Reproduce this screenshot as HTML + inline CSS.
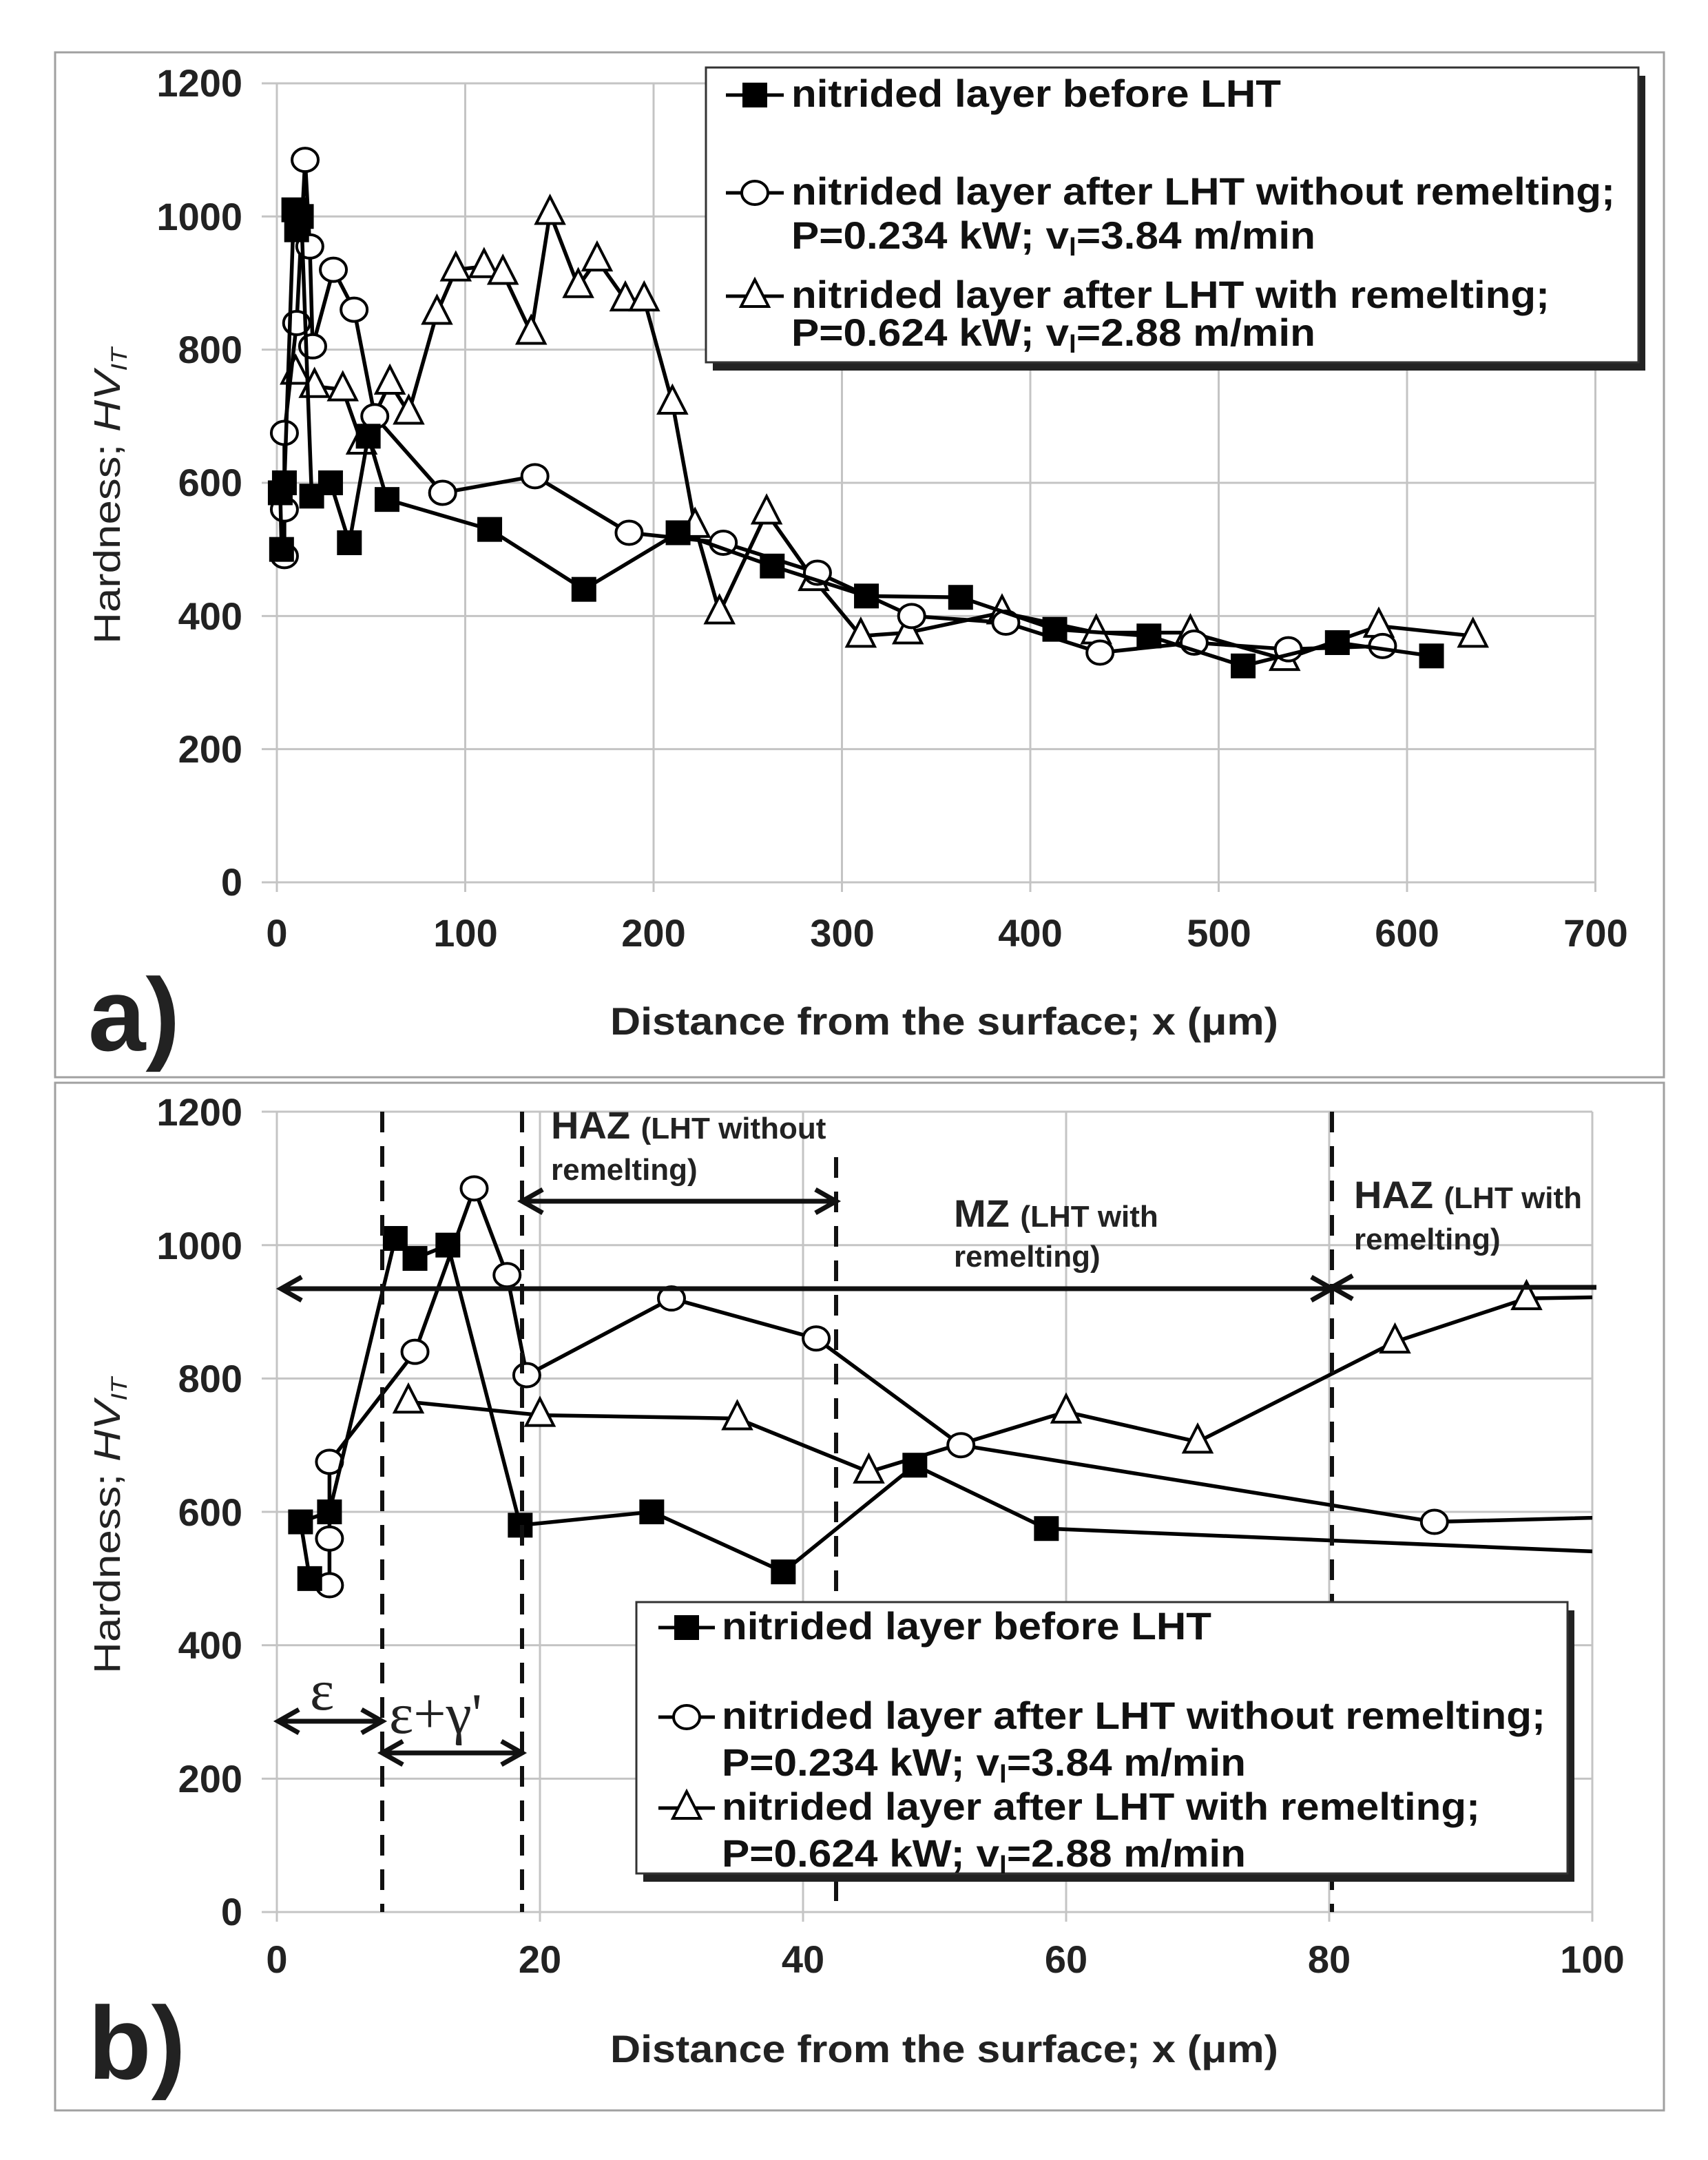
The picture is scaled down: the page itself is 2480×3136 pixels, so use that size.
<!DOCTYPE html>
<html><head><meta charset="utf-8"><style>
html,body{margin:0;padding:0;background:#fff;}
svg{display:block;font-family:"Liberation Sans",Arial,sans-serif;}
.t{font-size:56px;font-weight:bold;fill:#222;}
.lg{font-size:56px;font-weight:bold;fill:#111;}
</style></head><body>
<svg id="s" width="2480" height="3136" viewBox="0 0 2480 3136" xmlns="http://www.w3.org/2000/svg">
<defs>
<clipPath id="ca"><rect x="380" y="100" width="1960" height="1200"/></clipPath>
<clipPath id="cb"><rect x="380" y="1590" width="1932" height="1210"/></clipPath>
</defs>
<rect x="80" y="76" width="2336" height="1488" fill="none" stroke="#a0a0a0" stroke-width="3"/>
<rect x="80" y="1572" width="2336" height="1492" fill="none" stroke="#a0a0a0" stroke-width="3"/>
<g id="gridA"></g><g id="gridB"></g>
<g id="dataA" clip-path="url(#ca)"></g>
<g id="dataB" clip-path="url(#cb)"></g>

<g class="t" text-anchor="end">
<text x="352" y="140">1200</text><text x="352" y="334">1000</text><text x="352" y="527">800</text>
<text x="352" y="720">600</text><text x="352" y="914">400</text><text x="352" y="1107">200</text><text x="352" y="1300">0</text>
</g>
<g class="t" text-anchor="middle">
<text x="402" y="1374">0</text><text x="676" y="1374">100</text><text x="949" y="1374">200</text><text x="1223" y="1374">300</text>
<text x="1496" y="1374">400</text><text x="1770" y="1374">500</text><text x="2043" y="1374">600</text><text x="2317" y="1374">700</text>
</g>
<text x="886" y="1502" class="t" textLength="970" lengthAdjust="spacingAndGlyphs">Distance from the surface; x (μm)</text>
<text x="128" y="1525" style="font-size:150px;font-weight:bold;fill:#222">a)</text>
<text transform="translate(174,935) rotate(-90)" style="font-size:54px;fill:#222" textLength="430" lengthAdjust="spacingAndGlyphs">Hardness; <tspan font-style="italic">HV</tspan><tspan font-style="italic" font-size="32" dy="10">IT</tspan></text>

<g class="t" text-anchor="end">
<text x="352" y="1634">1200</text><text x="352" y="1828">1000</text><text x="352" y="2021">800</text>
<text x="352" y="2215">600</text><text x="352" y="2408">400</text><text x="352" y="2602">200</text><text x="352" y="2795">0</text>
</g>
<g class="t" text-anchor="middle">
<text x="402" y="2864">0</text><text x="784" y="2864">20</text><text x="1166" y="2864">40</text>
<text x="1548" y="2864">60</text><text x="1930" y="2864">80</text><text x="2312" y="2864">100</text>
</g>
<text x="886" y="2994" class="t" textLength="970" lengthAdjust="spacingAndGlyphs">Distance from the surface; x (μm)</text>
<text x="128" y="3018" style="font-size:150px;font-weight:bold;fill:#222">b)</text>
<text transform="translate(174,2430) rotate(-90)" style="font-size:54px;fill:#222" textLength="430" lengthAdjust="spacingAndGlyphs">Hardness; <tspan font-style="italic">HV</tspan><tspan font-style="italic" font-size="32" dy="10">IT</tspan></text>

<g stroke="#111" stroke-width="6" stroke-dasharray="30,20" fill="none">
<line x1="555" y1="1614" x2="555" y2="2776"/>
<line x1="758" y1="1614" x2="758" y2="2776"/>
<line x1="1214" y1="1680" x2="1214" y2="2776"/>
<line x1="1934" y1="1614" x2="1934" y2="2776"/>
</g>
<g id="arrows" stroke="#111" stroke-width="7" fill="none"></g>
<g style="fill:#222">
<text x="800" y="1653" style="font-size:56px;font-weight:bold">HAZ <tspan style="font-size:44px">(LHT without</tspan></text>
<text x="800" y="1713" style="font-size:44px;font-weight:bold">remelting)</text>
<text x="1385" y="1781" style="font-size:56px;font-weight:bold">MZ <tspan style="font-size:44px">(LHT with</tspan></text>
<text x="1385" y="1839" style="font-size:44px;font-weight:bold">remelting)</text>
<text x="1966" y="1754" style="font-size:56px;font-weight:bold">HAZ <tspan style="font-size:44px">(LHT with</tspan></text>
<text x="1966" y="1814" style="font-size:44px;font-weight:bold">remelting)</text>
<text x="450" y="2482" style="font-family:'Liberation Serif',serif;font-size:84px">ε</text>
<text x="565" y="2516" style="font-family:'Liberation Serif',serif;font-size:84px">ε+γ'</text>
</g>

<rect x="1035" y="110" width="1354" height="428" fill="#222"/>
<rect x="1025" y="98" width="1354" height="428" fill="#fff" stroke="#333" stroke-width="3"/>
<g class="lg">
<text x="1149" y="155" textLength="711" lengthAdjust="spacingAndGlyphs">nitrided layer before LHT</text>
<text x="1149" y="297" textLength="1196" lengthAdjust="spacingAndGlyphs">nitrided layer after LHT without remelting;</text>
<text x="1149" y="361" textLength="761" lengthAdjust="spacingAndGlyphs">P=0.234 kW; v<tspan font-size="36" dy="10">l</tspan><tspan dy="-10">=3.84 m/min</tspan></text>
<text x="1149" y="447" textLength="1101" lengthAdjust="spacingAndGlyphs">nitrided layer after LHT with remelting;</text>
<text x="1149" y="502" textLength="761" lengthAdjust="spacingAndGlyphs">P=0.624 kW; v<tspan font-size="36" dy="10">l</tspan><tspan dy="-10">=2.88 m/min</tspan></text>
</g>
<g id="legA"></g>

<rect x="934" y="2338" width="1352" height="394" fill="#222"/>
<rect x="924" y="2326" width="1352" height="394" fill="#fff" stroke="#333" stroke-width="3"/>
<g class="lg">
<text x="1048" y="2380" textLength="711" lengthAdjust="spacingAndGlyphs">nitrided layer before LHT</text>
<text x="1048" y="2510" textLength="1196" lengthAdjust="spacingAndGlyphs">nitrided layer after LHT without remelting;</text>
<text x="1048" y="2578" textLength="761" lengthAdjust="spacingAndGlyphs">P=0.234 kW; v<tspan font-size="36" dy="10">l</tspan><tspan dy="-10">=3.84 m/min</tspan></text>
<text x="1048" y="2642" textLength="1101" lengthAdjust="spacingAndGlyphs">nitrided layer after LHT with remelting;</text>
<text x="1048" y="2710" textLength="761" lengthAdjust="spacingAndGlyphs">P=0.624 kW; v<tspan font-size="36" dy="10">l</tspan><tspan dy="-10">=2.88 m/min</tspan></text>
</g>
<g id="legB"></g>
</svg>
<script>
function add(g,h){document.getElementById(g).insertAdjacentHTML('beforeend',h);}
function xa(v){return 402+v*2.735;} function ya(v){return 1281-v*0.9667;}
function xb(v){return 402+v*19.1;} function yb(v){return 2776-v*0.9683;}
var g='';
for(var i=0;i<=6;i++){var y=ya(i*200);g+='<line x1="380" y1="'+y+'" x2="'+xa(700)+'" y2="'+y+'" stroke="#c4c4c4" stroke-width="3"/>';}
for(var i=0;i<=7;i++){var x=xa(i*100);g+='<line x1="'+x+'" y1="'+ya(1200)+'" x2="'+x+'" y2="1295" stroke="#c4c4c4" stroke-width="3"/>';}
add('gridA',g);g='';
for(var i=0;i<=6;i++){var y=yb(i*200);g+='<line x1="380" y1="'+y+'" x2="2312" y2="'+y+'" stroke="#c4c4c4" stroke-width="3"/>';}
for(var i=0;i<=5;i++){var x=xb(i*20);g+='<line x1="'+x+'" y1="'+yb(1200)+'" x2="'+x+'" y2="2790" stroke="#c4c4c4" stroke-width="3"/>';}
add('gridB',g);
var sq=[[2.5,500],[1.8,585],[4,600],[9,1010],[10.5,980],[13,1000],[18.5,580],[28.5,600],[38.5,510],[48.5,670],[58.5,575],[113,530],[163,440],[213,525],[263,475],[313,430],[363,428],[413,380],[463,370],[513,325],[563,360],[613,340]];
var ci=[[4,490],[4,560],[4,675],[10.5,840],[15,1085],[17.5,955],[19,805],[30,920],[41,860],[52,700],[88,585],[137,610],[187,525],[237,510],[287,465],[337,400],[387,390],[437,345],[487,360],[537,350],[587,355]];
var tr=[[10,765],[20,745],[35,740],[45,660],[60,750],[70,705],[85,855],[95,920],[110,925],[120,915],[135,825],[145,1005],[160,895],[170,935],[185,875],[195,875],[210,720],[222,535],[235,405],[260,555],[285,455],[310,370],[335,375],[385,405],[435,375],[485,375],[535,335],[585,385],[635,370]];
function mk(t,x,y){
 if(t==0)return '<rect x="'+(x-18)+'" y="'+(y-18)+'" width="36" height="36" fill="#000"/>';
 if(t==1)return '<ellipse cx="'+x+'" cy="'+y+'" rx="19" ry="17" fill="#fff" stroke="#000" stroke-width="4"/>';
 return '<polygon points="'+x+','+(y-24)+' '+(x+20)+','+(y+15)+' '+(x-20)+','+(y+15)+'" fill="#fff" stroke="#000" stroke-width="4"/>';
}
function series(gid,d,t,fx,fy){
 var p=d.map(function(q){return fx(q[0])+','+fy(q[1]);}).join(' ');
 var h='<polyline points="'+p+'" fill="none" stroke="#000" stroke-width="5.5" stroke-linejoin="round"/>';
 d.forEach(function(q){h+=mk(t,fx(q[0]),fy(q[1]));});
 add(gid,h);
}
[[tr,2],[ci,1],[sq,0]].forEach(function(s){series('dataA',s[0],s[1],xa,ya);series('dataB',s[0],s[1],xb,yb);});
function leg(gid,x1,x2,ys){
 var h='';var xm=(x1+x2)/2;
 ys.forEach(function(y,i){h+='<line x1="'+x1+'" y1="'+y+'" x2="'+x2+'" y2="'+y+'" stroke="#000" stroke-width="5"/>'+mk(i,xm,y);});
 add(gid,h);
}
leg('legA',1054,1138,[138,280,430]);
leg('legB',956,1038,[2363,2493,2625]);
function arr(x1,x2,y,l,r){
 var h='<line x1="'+x1+'" y1="'+y+'" x2="'+x2+'" y2="'+y+'"/>';
 if(l)h+='<polyline points="'+(x1+30)+','+(y-17)+' '+x1+','+y+' '+(x1+30)+','+(y+17)+'"/>';
 if(r)h+='<polyline points="'+(x2-30)+','+(y-17)+' '+x2+','+y+' '+(x2-30)+','+(y+17)+'"/>';
 add('arrows',h);
}
arr(408,1934,1871,true,true);
arr(1934,2318,1869,true,false);
arr(758,1214,1744,true,true);
arr(404,555,2499,true,true);
arr(555,758,2545,true,true);
</script>
</body></html>
